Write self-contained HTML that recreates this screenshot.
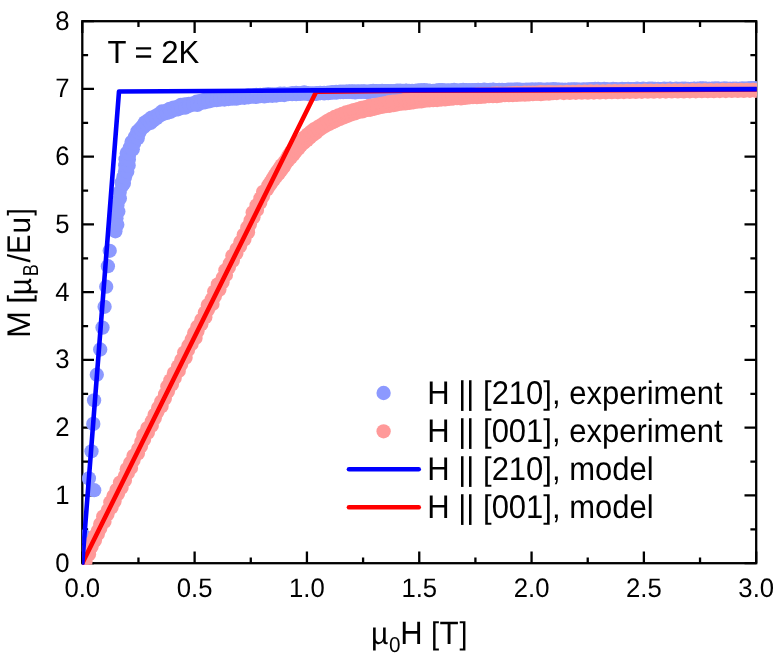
<!DOCTYPE html>
<html>
<head>
<meta charset="utf-8">
<title>M(H) at T = 2K</title>
<style>
html,body{margin:0;padding:0;background:#ffffff;}
body{width:781px;height:655px;overflow:hidden;font-family:"Liberation Sans",sans-serif;}
svg{display:block;will-change:transform;}
</style>
</head>
<body>
<svg width="781" height="655" viewBox="0 0 781 655">
<rect width="781" height="655" fill="#ffffff"/>
<defs><clipPath id="c"><rect x="82.1" y="20" width="674.7" height="544.7"/></clipPath></defs>
<g stroke="#000" stroke-width="2.3" fill="none" stroke-linecap="butt">
<rect x="82.3" y="21.2" width="673.9" height="542"/>
<path d="M82.3 563.2v-11.7M82.3 21.2v11.7M138.46 563.2v-5.8M138.46 21.2v5.8M194.62 563.2v-11.7M194.62 21.2v11.7M250.78 563.2v-5.8M250.78 21.2v5.8M306.93 563.2v-11.7M306.93 21.2v11.7M363.09 563.2v-5.8M363.09 21.2v5.8M419.25 563.2v-11.7M419.25 21.2v11.7M475.41 563.2v-5.8M475.41 21.2v5.8M531.57 563.2v-11.7M531.57 21.2v11.7M587.73 563.2v-5.8M587.73 21.2v5.8M643.88 563.2v-11.7M643.88 21.2v11.7M700.04 563.2v-5.8M700.04 21.2v5.8M756.2 563.2v-11.7M756.2 21.2v11.7M82.3 563.2h11.7M756.2 563.2h-11.7M82.3 529.33h5.8M756.2 529.33h-5.8M82.3 495.45h11.7M756.2 495.45h-11.7M82.3 461.58h5.8M756.2 461.58h-5.8M82.3 427.7h11.7M756.2 427.7h-11.7M82.3 393.83h5.8M756.2 393.83h-5.8M82.3 359.95h11.7M756.2 359.95h-11.7M82.3 326.08h5.8M756.2 326.08h-5.8M82.3 292.2h11.7M756.2 292.2h-11.7M82.3 258.33h5.8M756.2 258.33h-5.8M82.3 224.45h11.7M756.2 224.45h-11.7M82.3 190.58h5.8M756.2 190.58h-5.8M82.3 156.7h11.7M756.2 156.7h-11.7M82.3 122.83h5.8M756.2 122.83h-5.8M82.3 88.95h11.7M756.2 88.95h-11.7M82.3 55.08h5.8M756.2 55.08h-5.8M82.3 21.2h11.7M756.2 21.2h-11.7"/>
</g>
<g clip-path="url(#c)">
<g fill="#8c99ff">
<circle cx="82.6" cy="562" r="7.15"/><circle cx="84.7" cy="536.5" r="7.15"/><circle cx="88.9" cy="478.4" r="7.15"/><circle cx="94.2" cy="490.2" r="7.15"/><circle cx="91.5" cy="451.3" r="7.15"/><circle cx="93.3" cy="423.9" r="7.15"/><circle cx="94.1" cy="400.3" r="7.15"/><circle cx="96.8" cy="374.7" r="7.15"/><circle cx="100.2" cy="349.5" r="7.15"/><circle cx="102.5" cy="327.6" r="7.15"/><circle cx="104.6" cy="306.8" r="7.15"/><circle cx="106.2" cy="286.7" r="7.15"/><circle cx="107.9" cy="266.2" r="7.15"/><circle cx="109.7" cy="250.8" r="7.15"/><circle cx="115.4" cy="231.3" r="7.15"/><circle cx="117.3" cy="224.72" r="7.15"/><circle cx="116.42" cy="218.14" r="7.15"/><circle cx="118.33" cy="211.56" r="7.15"/><circle cx="117.5" cy="204.98" r="7.15"/><circle cx="119.85" cy="198.46" r="7.15"/><circle cx="119.71" cy="191.98" r="7.15"/><circle cx="122.38" cy="185.5" r="7.15"/><circle cx="121.66" cy="182.68" r="7.15"/><circle cx="123.91" cy="183.11" r="7.15"/><circle cx="123.45" cy="176.93" r="7.15"/><circle cx="124.96" cy="177.32" r="7.15"/><circle cx="125.05" cy="171.17" r="7.15"/><circle cx="127.25" cy="171.81" r="7.15"/><circle cx="125.24" cy="165.19" r="7.15"/><circle cx="128.63" cy="165.48" r="7.15"/><circle cx="125.56" cy="159.19" r="7.15"/><circle cx="128.86" cy="159.49" r="7.15"/><circle cx="126.76" cy="153.15" r="7.15"/><circle cx="129.27" cy="153.96" r="7.15"/><circle cx="129.74" cy="147.82" r="7.15"/><circle cx="132.77" cy="149.18" r="7.15"/><circle cx="131.56" cy="142.08" r="7.15"/><circle cx="134.12" cy="143.16" r="7.15"/><circle cx="134.8" cy="136.94" r="7.15"/><circle cx="137.69" cy="138.26" r="7.15"/><circle cx="137.33" cy="131.52" r="7.15"/><circle cx="139.3" cy="132.67" r="7.15"/><circle cx="140.15" cy="128.73" r="7.15"/><circle cx="140.86" cy="129.32" r="7.15"/><circle cx="142.73" cy="125.8" r="7.15"/><circle cx="143.78" cy="126.97" r="7.15"/><circle cx="145.02" cy="122.32" r="7.15"/><circle cx="146.58" cy="124.34" r="7.15"/><circle cx="148.37" cy="120.1" r="7.15"/><circle cx="150.49" cy="122.9" r="7.15"/><circle cx="151.52" cy="117.57" r="7.15"/><circle cx="153.32" cy="120.37" r="7.15"/><circle cx="155.4" cy="116.24" r="7.15"/><circle cx="156.47" cy="118.08" r="7.15"/><circle cx="158.79" cy="114.1" r="7.15"/><circle cx="159.63" cy="115.61" r="7.15"/><circle cx="161.95" cy="111.45" r="7.15"/><circle cx="163.16" cy="114.04" r="7.15"/><circle cx="166.09" cy="110.94" r="7.15"/><circle cx="166.87" cy="112.94" r="7.15"/><circle cx="169.6" cy="108.92" r="7.15"/><circle cx="170.71" cy="111.81" r="7.15"/><circle cx="173.42" cy="107.7" r="7.15"/><circle cx="174.24" cy="109.88" r="7.15"/><circle cx="177.38" cy="106.95" r="7.15"/><circle cx="178.14" cy="109.25" r="7.15"/><circle cx="180.94" cy="104.86" r="7.15"/><circle cx="181.76" cy="107.95" r="7.15"/><circle cx="184.95" cy="104.39" r="7.15"/><circle cx="185.68" cy="107.54" r="7.15"/><circle cx="188.93" cy="103.88" r="7.15"/><circle cx="189.31" cy="105.65" r="7.15"/><circle cx="192.93" cy="103.5" r="7.15"/><circle cx="193.14" cy="104.53" r="7.15"/><circle cx="196.65" cy="101.72" r="7.15"/><circle cx="197.28" cy="104.87" r="7.15"/><circle cx="200.54" cy="100.81" r="7.15"/><circle cx="200.99" cy="102.98" r="7.15"/><circle cx="204.44" cy="99.91" r="7.15"/><circle cx="204.93" cy="102.27" r="7.15"/><circle cx="208.48" cy="99.68" r="7.15"/><circle cx="208.79" cy="101.37" r="7.15"/><circle cx="212.42" cy="99.09" r="7.15"/><circle cx="212.63" cy="100.45" r="7.15"/><circle cx="216.36" cy="98.41" r="7.15"/><circle cx="216.56" cy="100.1" r="7.15"/><circle cx="220.33" cy="97.9" r="7.15"/><circle cx="220.48" cy="99.53" r="7.15"/><circle cx="224.33" cy="97.78" r="7.15"/><circle cx="224.46" cy="99.55" r="7.15"/><circle cx="228.29" cy="97.2" r="7.15"/><circle cx="228.42" cy="98.99" r="7.15"/><circle cx="232.26" cy="96.61" r="7.15"/><circle cx="232.4" cy="98.72" r="7.15"/><circle cx="236.29" cy="96.82" r="7.15"/><circle cx="236.4" cy="98.65" r="7.15"/><circle cx="240.29" cy="96.7" r="7.15"/><circle cx="240.36" cy="97.78" r="7.15"/><circle cx="244.25" cy="96.08" r="7.15"/><circle cx="244.37" cy="97.77" r="7.15"/><circle cx="248.22" cy="95.51" r="7.15"/><circle cx="248.35" cy="97.28" r="7.15"/><circle cx="252.22" cy="95.35" r="7.15"/><circle cx="252.32" cy="96.68" r="7.15"/><circle cx="256.21" cy="94.99" r="7.15"/><circle cx="256.34" cy="96.89" r="7.15"/><circle cx="260.2" cy="94.78" r="7.15"/><circle cx="260.29" cy="96.17" r="7.15"/><circle cx="264.21" cy="94.74" r="7.15"/><circle cx="264.31" cy="96.37" r="7.15"/><circle cx="268.19" cy="94.25" r="7.15"/><circle cx="268.28" cy="95.75" r="7.15"/><circle cx="272.2" cy="94.39" r="7.15"/><circle cx="272.29" cy="95.81" r="7.15"/><circle cx="276.21" cy="94.38" r="7.15"/><circle cx="276.27" cy="95.52" r="7.15"/><circle cx="280.18" cy="93.73" r="7.15"/><circle cx="280.24" cy="94.9" r="7.15"/><circle cx="284.18" cy="93.58" r="7.15"/><circle cx="284.25" cy="95.02" r="7.15"/><circle cx="288.2" cy="93.87" r="7.15"/><circle cx="288.21" cy="94.21" r="7.15"/><circle cx="292.17" cy="93.09" r="7.15"/><circle cx="292.2" cy="94.07" r="7.15"/><circle cx="296.17" cy="93.02" r="7.15"/><circle cx="296.19" cy="94.11" r="7.15"/><circle cx="300.17" cy="93.26" r="7.15"/><circle cx="300.18" cy="93.84" r="7.15"/><circle cx="304.17" cy="93.58" r="7.15"/><circle cx="304.18" cy="92.45" r="7.15"/><circle cx="308.17" cy="93.09" r="7.15"/><circle cx="308.18" cy="94" r="7.15"/><circle cx="312.18" cy="93.52" r="7.15"/><circle cx="312.19" cy="94.02" r="7.15"/><circle cx="316.17" cy="93.07" r="7.15"/><circle cx="316.2" cy="93.82" r="7.15"/><circle cx="320.18" cy="93.01" r="7.15"/><circle cx="320.18" cy="93.13" r="7.15"/><circle cx="324.18" cy="92.92" r="7.15"/><circle cx="324.21" cy="93.4" r="7.15"/><circle cx="328.17" cy="92.69" r="7.15"/><circle cx="328.19" cy="93.16" r="7.15"/><circle cx="332.15" cy="92.14" r="7.15"/><circle cx="332.16" cy="92.63" r="7.15"/><circle cx="336.14" cy="91.78" r="7.15"/><circle cx="336.16" cy="92.65" r="7.15"/><circle cx="340.14" cy="91.65" r="7.15"/><circle cx="340.15" cy="92.05" r="7.15"/><circle cx="343.14" cy="91.69" r="7.15"/><circle cx="343.15" cy="92.06" r="7.15"/><circle cx="346.14" cy="91.73" r="7.15"/><circle cx="346.15" cy="91.9" r="7.15"/><circle cx="349.14" cy="91.39" r="7.15"/><circle cx="349.15" cy="91.92" r="7.15"/><circle cx="352.14" cy="91.41" r="7.15"/><circle cx="352.15" cy="92.02" r="7.15"/><circle cx="355.14" cy="91.29" r="7.15"/><circle cx="355.16" cy="92.37" r="7.15"/><circle cx="358.14" cy="91.7" r="7.15"/><circle cx="358.15" cy="91.73" r="7.15"/><circle cx="361.14" cy="91.35" r="7.15"/><circle cx="361.15" cy="91.83" r="7.15"/><circle cx="364.14" cy="91.38" r="7.15"/><circle cx="364.14" cy="91.59" r="7.15"/><circle cx="367.15" cy="91.71" r="7.15"/><circle cx="367.16" cy="92.23" r="7.15"/><circle cx="370.14" cy="91.35" r="7.15"/><circle cx="370.15" cy="91.76" r="7.15"/><circle cx="373.13" cy="90.99" r="7.15"/><circle cx="373.14" cy="91.4" r="7.15"/><circle cx="376.14" cy="91.14" r="7.15"/><circle cx="376.14" cy="91.48" r="7.15"/><circle cx="379.14" cy="91.48" r="7.15"/><circle cx="379.14" cy="91.34" r="7.15"/><circle cx="382.13" cy="90.78" r="7.15"/><circle cx="382.15" cy="91.92" r="7.15"/><circle cx="385.14" cy="91.13" r="7.15"/><circle cx="385.14" cy="91.23" r="7.15"/><circle cx="388.14" cy="91.1" r="7.15"/><circle cx="388.14" cy="91.08" r="7.15"/><circle cx="391.14" cy="91.03" r="7.15"/><circle cx="391.15" cy="91.8" r="7.15"/><circle cx="394.14" cy="91.26" r="7.15"/><circle cx="394.15" cy="91.52" r="7.15"/><circle cx="397.13" cy="90.73" r="7.15"/><circle cx="397.14" cy="91.21" r="7.15"/><circle cx="400.13" cy="90.61" r="7.15"/><circle cx="400.15" cy="91.49" r="7.15"/><circle cx="403.14" cy="90.85" r="7.15"/><circle cx="403.15" cy="91.45" r="7.15"/><circle cx="406.13" cy="90.65" r="7.15"/><circle cx="406.14" cy="90.96" r="7.15"/><circle cx="409.14" cy="90.99" r="7.15"/><circle cx="409.15" cy="91.53" r="7.15"/><circle cx="412.14" cy="90.98" r="7.15"/><circle cx="412.14" cy="91.35" r="7.15"/><circle cx="415.14" cy="90.92" r="7.15"/><circle cx="415.14" cy="91.25" r="7.15"/><circle cx="418.13" cy="90.41" r="7.15"/><circle cx="418.14" cy="91.04" r="7.15"/><circle cx="421.13" cy="90.47" r="7.15"/><circle cx="421.13" cy="90.61" r="7.15"/><circle cx="424.13" cy="90.17" r="7.15"/><circle cx="424.14" cy="90.78" r="7.15"/><circle cx="427.13" cy="90.32" r="7.15"/><circle cx="427.14" cy="91.07" r="7.15"/><circle cx="430.14" cy="90.85" r="7.15"/><circle cx="430.14" cy="90.84" r="7.15"/><circle cx="433.14" cy="90.8" r="7.15"/><circle cx="433.14" cy="91.24" r="7.15"/><circle cx="436.14" cy="90.79" r="7.15"/><circle cx="436.14" cy="90.71" r="7.15"/><circle cx="439.13" cy="90.17" r="7.15"/><circle cx="439.13" cy="90.58" r="7.15"/><circle cx="442.13" cy="90.12" r="7.15"/><circle cx="442.13" cy="90.53" r="7.15"/><circle cx="445.13" cy="90.44" r="7.15"/><circle cx="445.14" cy="91.06" r="7.15"/><circle cx="448.14" cy="90.58" r="7.15"/><circle cx="448.14" cy="90.69" r="7.15"/><circle cx="451.13" cy="90.41" r="7.15"/><circle cx="451.14" cy="90.92" r="7.15"/><circle cx="454.13" cy="89.93" r="7.15"/><circle cx="454.14" cy="90.79" r="7.15"/><circle cx="457.14" cy="90.56" r="7.15"/><circle cx="457.14" cy="90.86" r="7.15"/><circle cx="460.13" cy="90.41" r="7.15"/><circle cx="460.14" cy="90.59" r="7.15"/><circle cx="463.13" cy="89.93" r="7.15"/><circle cx="463.14" cy="90.82" r="7.15"/><circle cx="466.13" cy="90.03" r="7.15"/><circle cx="466.14" cy="90.81" r="7.15"/><circle cx="469.13" cy="90.52" r="7.15"/><circle cx="469.13" cy="90.46" r="7.15"/><circle cx="472.13" cy="90.04" r="7.15"/><circle cx="472.14" cy="90.88" r="7.15"/><circle cx="475.13" cy="90.28" r="7.15"/><circle cx="475.13" cy="90.24" r="7.15"/><circle cx="478.13" cy="89.78" r="7.15"/><circle cx="478.13" cy="90.2" r="7.15"/><circle cx="481.13" cy="90.38" r="7.15"/><circle cx="481.14" cy="90.71" r="7.15"/><circle cx="484.13" cy="89.76" r="7.15"/><circle cx="484.14" cy="90.7" r="7.15"/><circle cx="487.13" cy="90.4" r="7.15"/><circle cx="487.14" cy="90.54" r="7.15"/><circle cx="490.13" cy="89.88" r="7.15"/><circle cx="490.13" cy="90.44" r="7.15"/><circle cx="493.13" cy="89.68" r="7.15"/><circle cx="493.13" cy="89.99" r="7.15"/><circle cx="496.13" cy="90.34" r="7.15"/><circle cx="496.13" cy="90.48" r="7.15"/><circle cx="499.13" cy="89.96" r="7.15"/><circle cx="499.14" cy="90.69" r="7.15"/><circle cx="502.13" cy="89.87" r="7.15"/><circle cx="502.14" cy="90.62" r="7.15"/><circle cx="505.13" cy="90.16" r="7.15"/><circle cx="505.13" cy="90.07" r="7.15"/><circle cx="508.13" cy="89.68" r="7.15"/><circle cx="508.13" cy="90.11" r="7.15"/><circle cx="511.13" cy="89.65" r="7.15"/><circle cx="511.13" cy="90.33" r="7.15"/><circle cx="514.13" cy="89.65" r="7.15"/><circle cx="514.13" cy="90.17" r="7.15"/><circle cx="517.13" cy="89.52" r="7.15"/><circle cx="517.14" cy="90.55" r="7.15"/><circle cx="520.13" cy="89.68" r="7.15"/><circle cx="520.13" cy="90.17" r="7.15"/><circle cx="523.13" cy="89.85" r="7.15"/><circle cx="523.14" cy="90.5" r="7.15"/><circle cx="526.13" cy="89.7" r="7.15"/><circle cx="526.14" cy="90.49" r="7.15"/><circle cx="529.13" cy="89.74" r="7.15"/><circle cx="529.13" cy="90.16" r="7.15"/><circle cx="532.13" cy="89.74" r="7.15"/><circle cx="532.13" cy="89.73" r="7.15"/><circle cx="535.13" cy="89.65" r="7.15"/><circle cx="535.13" cy="89.85" r="7.15"/><circle cx="538.13" cy="89.28" r="7.15"/><circle cx="538.13" cy="90.32" r="7.15"/><circle cx="541.13" cy="89.4" r="7.15"/><circle cx="541.13" cy="90.04" r="7.15"/><circle cx="544.13" cy="89.82" r="7.15"/><circle cx="544.13" cy="90.09" r="7.15"/><circle cx="547.13" cy="89.48" r="7.15"/><circle cx="547.13" cy="90.04" r="7.15"/><circle cx="550.13" cy="89.65" r="7.15"/><circle cx="550.13" cy="90.23" r="7.15"/><circle cx="553.13" cy="89.27" r="7.15"/><circle cx="553.13" cy="90.04" r="7.15"/><circle cx="556.13" cy="89.37" r="7.15"/><circle cx="556.13" cy="89.79" r="7.15"/><circle cx="559.13" cy="89.77" r="7.15"/><circle cx="559.13" cy="89.96" r="7.15"/><circle cx="562.13" cy="89.58" r="7.15"/><circle cx="562.13" cy="90.14" r="7.15"/><circle cx="565.13" cy="89.85" r="7.15"/><circle cx="565.13" cy="89.87" r="7.15"/><circle cx="568.13" cy="89.59" r="7.15"/><circle cx="568.13" cy="89.9" r="7.15"/><circle cx="571.13" cy="89.49" r="7.15"/><circle cx="571.13" cy="90.03" r="7.15"/><circle cx="574.13" cy="89.42" r="7.15"/><circle cx="574.13" cy="89.89" r="7.15"/><circle cx="577.13" cy="89.43" r="7.15"/><circle cx="577.13" cy="90.2" r="7.15"/><circle cx="580.13" cy="89.59" r="7.15"/><circle cx="580.13" cy="90.13" r="7.15"/><circle cx="583.13" cy="89.76" r="7.15"/><circle cx="583.13" cy="89.62" r="7.15"/><circle cx="586.13" cy="89.44" r="7.15"/><circle cx="586.13" cy="90.15" r="7.15"/><circle cx="589.13" cy="89.65" r="7.15"/><circle cx="589.13" cy="89.49" r="7.15"/><circle cx="592.13" cy="89.06" r="7.15"/><circle cx="592.13" cy="89.71" r="7.15"/><circle cx="595.13" cy="89" r="7.15"/><circle cx="595.13" cy="89.54" r="7.15"/><circle cx="598.13" cy="88.98" r="7.15"/><circle cx="598.13" cy="89.86" r="7.15"/><circle cx="601.13" cy="89.54" r="7.15"/><circle cx="601.13" cy="90.03" r="7.15"/><circle cx="604.13" cy="89.02" r="7.15"/><circle cx="604.13" cy="89.87" r="7.15"/><circle cx="607.13" cy="89.4" r="7.15"/><circle cx="607.13" cy="89.39" r="7.15"/><circle cx="610.13" cy="89.57" r="7.15"/><circle cx="610.13" cy="90.03" r="7.15"/><circle cx="613.13" cy="89.02" r="7.15"/><circle cx="613.13" cy="90.01" r="7.15"/><circle cx="616.13" cy="89.15" r="7.15"/><circle cx="616.13" cy="89.62" r="7.15"/><circle cx="619.13" cy="89.6" r="7.15"/><circle cx="619.13" cy="89.88" r="7.15"/><circle cx="622.13" cy="88.92" r="7.15"/><circle cx="622.13" cy="89.54" r="7.15"/><circle cx="625.13" cy="89.19" r="7.15"/><circle cx="625.13" cy="89.45" r="7.15"/><circle cx="628.13" cy="88.92" r="7.15"/><circle cx="628.13" cy="89.42" r="7.15"/><circle cx="631.13" cy="89.32" r="7.15"/><circle cx="631.13" cy="89.16" r="7.15"/><circle cx="634.13" cy="89.17" r="7.15"/><circle cx="634.13" cy="89.48" r="7.15"/><circle cx="637.13" cy="88.73" r="7.15"/><circle cx="637.13" cy="89.38" r="7.15"/><circle cx="640.13" cy="89.2" r="7.15"/><circle cx="640.13" cy="89.51" r="7.15"/><circle cx="643.13" cy="88.74" r="7.15"/><circle cx="643.13" cy="89.87" r="7.15"/><circle cx="646.13" cy="89.3" r="7.15"/><circle cx="646.13" cy="89.85" r="7.15"/><circle cx="649.13" cy="88.74" r="7.15"/><circle cx="649.13" cy="89.27" r="7.15"/><circle cx="652.13" cy="88.67" r="7.15"/><circle cx="652.13" cy="89.66" r="7.15"/><circle cx="655.13" cy="88.84" r="7.15"/><circle cx="655.13" cy="89.13" r="7.15"/><circle cx="658.13" cy="88.95" r="7.15"/><circle cx="658.13" cy="89.74" r="7.15"/><circle cx="661.13" cy="89.25" r="7.15"/><circle cx="661.13" cy="89.2" r="7.15"/><circle cx="664.13" cy="88.7" r="7.15"/><circle cx="664.13" cy="89.71" r="7.15"/><circle cx="667.13" cy="89.02" r="7.15"/><circle cx="667.13" cy="89.52" r="7.15"/><circle cx="670.13" cy="88.62" r="7.15"/><circle cx="670.13" cy="89" r="7.15"/><circle cx="673.13" cy="89.09" r="7.15"/><circle cx="673.13" cy="89.27" r="7.15"/><circle cx="676.13" cy="88.58" r="7.15"/><circle cx="676.13" cy="89.67" r="7.15"/><circle cx="679.13" cy="89.01" r="7.15"/><circle cx="679.13" cy="89.55" r="7.15"/><circle cx="682.13" cy="88.56" r="7.15"/><circle cx="682.13" cy="89.58" r="7.15"/><circle cx="685.13" cy="88.53" r="7.15"/><circle cx="685.13" cy="89.57" r="7.15"/><circle cx="688.13" cy="88.83" r="7.15"/><circle cx="688.13" cy="89.14" r="7.15"/><circle cx="691.13" cy="88.89" r="7.15"/><circle cx="691.13" cy="89.59" r="7.15"/><circle cx="694.13" cy="88.65" r="7.15"/><circle cx="694.13" cy="88.94" r="7.15"/><circle cx="697.13" cy="88.84" r="7.15"/><circle cx="697.13" cy="89.01" r="7.15"/><circle cx="700.13" cy="88.5" r="7.15"/><circle cx="700.13" cy="88.94" r="7.15"/><circle cx="703.13" cy="88.43" r="7.15"/><circle cx="703.13" cy="88.96" r="7.15"/><circle cx="706.13" cy="88.63" r="7.15"/><circle cx="706.13" cy="89.02" r="7.15"/><circle cx="709.13" cy="88.97" r="7.15"/><circle cx="709.13" cy="89" r="7.15"/><circle cx="712.13" cy="88.75" r="7.15"/><circle cx="712.13" cy="88.9" r="7.15"/><circle cx="715.13" cy="88.62" r="7.15"/><circle cx="715.13" cy="88.75" r="7.15"/><circle cx="718.13" cy="88.53" r="7.15"/><circle cx="718.13" cy="88.74" r="7.15"/><circle cx="721.13" cy="88.9" r="7.15"/><circle cx="721.13" cy="89.15" r="7.15"/><circle cx="724.13" cy="88.45" r="7.15"/><circle cx="724.13" cy="89.08" r="7.15"/><circle cx="727.13" cy="89.03" r="7.15"/><circle cx="727.13" cy="88.77" r="7.15"/><circle cx="730.13" cy="88.93" r="7.15"/><circle cx="730.13" cy="89.02" r="7.15"/><circle cx="733.13" cy="88.65" r="7.15"/><circle cx="733.13" cy="89.33" r="7.15"/><circle cx="736.13" cy="88.56" r="7.15"/><circle cx="736.13" cy="89.05" r="7.15"/><circle cx="739.13" cy="88.78" r="7.15"/><circle cx="739.13" cy="89.42" r="7.15"/><circle cx="742.13" cy="88.49" r="7.15"/><circle cx="742.13" cy="89.28" r="7.15"/><circle cx="745.13" cy="88.77" r="7.15"/><circle cx="745.13" cy="89.11" r="7.15"/><circle cx="748.13" cy="88.51" r="7.15"/><circle cx="748.13" cy="88.87" r="7.15"/><circle cx="751.13" cy="88.22" r="7.15"/><circle cx="751.13" cy="88.68" r="7.15"/><circle cx="754.13" cy="88.22" r="7.15"/><circle cx="754.13" cy="89.16" r="7.15"/><circle cx="757.13" cy="88.35" r="7.15"/><circle cx="757.13" cy="88.68" r="7.15"/><circle cx="760.13" cy="88.2" r="7.15"/><circle cx="760.13" cy="89.21" r="7.15"/><circle cx="763.13" cy="88.82" r="7.15"/><circle cx="763.13" cy="89.06" r="7.15"/><circle cx="766.13" cy="88.33" r="7.15"/><circle cx="766.13" cy="88.7" r="7.15"/><circle cx="769.13" cy="88.33" r="7.15"/><circle cx="769.13" cy="88.86" r="7.15"/>
</g>
<g fill="#ff9999">
<circle cx="81.31" cy="562.71" r="7.15"/><circle cx="85.45" cy="561.41" r="7.15"/><circle cx="84.25" cy="556.35" r="7.15"/><circle cx="89" cy="554.24" r="7.15"/><circle cx="88.1" cy="549.33" r="7.15"/><circle cx="91.6" cy="546.6" r="7.15"/><circle cx="90.96" cy="542.94" r="7.15"/><circle cx="94.9" cy="540.42" r="7.15"/><circle cx="94.89" cy="535.96" r="7.15"/><circle cx="97.83" cy="534.06" r="7.15"/><circle cx="97.94" cy="530.77" r="7.15"/><circle cx="100.22" cy="528.55" r="7.15"/><circle cx="100.22" cy="524.09" r="7.15"/><circle cx="104.44" cy="521.72" r="7.15"/><circle cx="103.2" cy="516.64" r="7.15"/><circle cx="107.45" cy="514.28" r="7.15"/><circle cx="107.92" cy="510.05" r="7.15"/><circle cx="111.51" cy="507.36" r="7.15"/><circle cx="110.35" cy="502.33" r="7.15"/><circle cx="114.58" cy="501.07" r="7.15"/><circle cx="113.49" cy="496.07" r="7.15"/><circle cx="117.96" cy="493.82" r="7.15"/><circle cx="116.55" cy="489.78" r="7.15"/><circle cx="121.54" cy="487.78" r="7.15"/><circle cx="120" cy="482.56" r="7.15"/><circle cx="124.87" cy="480.5" r="7.15"/><circle cx="124.94" cy="476.07" r="7.15"/><circle cx="127.88" cy="473.06" r="7.15"/><circle cx="126.74" cy="469.15" r="7.15"/><circle cx="130.97" cy="467.9" r="7.15"/><circle cx="130.09" cy="463" r="7.15"/><circle cx="133.5" cy="460.23" r="7.15"/><circle cx="133.52" cy="455.78" r="7.15"/><circle cx="137.9" cy="453.48" r="7.15"/><circle cx="138.17" cy="449.15" r="7.15"/><circle cx="140.99" cy="446.08" r="7.15"/><circle cx="141.39" cy="441.81" r="7.15"/><circle cx="144.01" cy="439.77" r="7.15"/><circle cx="143.34" cy="434.97" r="7.15"/><circle cx="147.84" cy="432.73" r="7.15"/><circle cx="147.35" cy="428.03" r="7.15"/><circle cx="151.76" cy="425.75" r="7.15"/><circle cx="151.87" cy="421.34" r="7.15"/><circle cx="154.72" cy="418.29" r="7.15"/><circle cx="154.61" cy="414.89" r="7.15"/><circle cx="157.43" cy="411.82" r="7.15"/><circle cx="158.21" cy="407.74" r="7.15"/><circle cx="161.63" cy="406.08" r="7.15"/><circle cx="161.27" cy="401.45" r="7.15"/><circle cx="164.8" cy="398.73" r="7.15"/><circle cx="165.09" cy="394.41" r="7.15"/><circle cx="167.92" cy="391.34" r="7.15"/><circle cx="167.32" cy="386.59" r="7.15"/><circle cx="171.88" cy="384.38" r="7.15"/><circle cx="170.37" cy="380.29" r="7.15"/><circle cx="174.67" cy="377.95" r="7.15"/><circle cx="173.94" cy="373.13" r="7.15"/><circle cx="178.72" cy="371.03" r="7.15"/><circle cx="178.17" cy="366.29" r="7.15"/><circle cx="181.09" cy="364.39" r="7.15"/><circle cx="181.29" cy="360.03" r="7.15"/><circle cx="185.56" cy="357.68" r="7.15"/><circle cx="184.21" cy="352.55" r="7.15"/><circle cx="188.01" cy="349.96" r="7.15"/><circle cx="188.4" cy="345.7" r="7.15"/><circle cx="191.55" cy="343.91" r="7.15"/><circle cx="191.74" cy="339.54" r="7.15"/><circle cx="195.52" cy="338.06" r="7.15"/><circle cx="194.19" cy="332.94" r="7.15"/><circle cx="197.46" cy="331.21" r="7.15"/><circle cx="197.35" cy="326.69" r="7.15"/><circle cx="201.28" cy="324.17" r="7.15"/><circle cx="201.41" cy="319.78" r="7.15"/><circle cx="205.3" cy="317.24" r="7.15"/><circle cx="204.89" cy="312.57" r="7.15"/><circle cx="207.97" cy="309.63" r="7.15"/><circle cx="207.78" cy="305.08" r="7.15"/><circle cx="212.5" cy="304.06" r="7.15"/><circle cx="211.8" cy="299.25" r="7.15"/><circle cx="214.84" cy="296.3" r="7.15"/><circle cx="214.23" cy="291.53" r="7.15"/><circle cx="219.39" cy="289.62" r="7.15"/><circle cx="217.84" cy="284.39" r="7.15"/><circle cx="222.51" cy="282.24" r="7.15"/><circle cx="222.79" cy="277.91" r="7.15"/><circle cx="225.91" cy="275" r="7.15"/><circle cx="225.39" cy="270.27" r="7.15"/><circle cx="228.82" cy="267.51" r="7.15"/><circle cx="229.78" cy="263.52" r="7.15"/><circle cx="232.86" cy="260.59" r="7.15"/><circle cx="232.36" cy="255.87" r="7.15"/><circle cx="236.28" cy="253.35" r="7.15"/><circle cx="236.61" cy="249.05" r="7.15"/><circle cx="240.03" cy="246.28" r="7.15"/><circle cx="240.35" cy="241.98" r="7.15"/><circle cx="244.37" cy="239.48" r="7.15"/><circle cx="243.74" cy="234.74" r="7.15"/><circle cx="247.98" cy="232.32" r="7.15"/><circle cx="247.28" cy="227.57" r="7.15"/><circle cx="249.88" cy="224.36" r="7.15"/><circle cx="250.69" cy="220.34" r="7.15"/><circle cx="253.46" cy="217.2" r="7.15"/><circle cx="252.67" cy="212.46" r="7.15"/><circle cx="257" cy="210.02" r="7.15"/><circle cx="256.58" cy="205.43" r="7.15"/><circle cx="260.22" cy="202.72" r="7.15"/><circle cx="260.42" cy="198.37" r="7.15"/><circle cx="262.96" cy="196.29" r="7.15"/><circle cx="263.14" cy="191.82" r="7.15"/><circle cx="267.01" cy="189.46" r="7.15"/><circle cx="269.06" cy="186.05" r="7.15"/><circle cx="268.26" cy="185.49" r="7.15"/><circle cx="271.42" cy="182.82" r="7.15"/><circle cx="270.52" cy="182.19" r="7.15"/><circle cx="273.81" cy="179.6" r="7.15"/><circle cx="272.63" cy="178.79" r="7.15"/><circle cx="276.18" cy="176.39" r="7.15"/><circle cx="274.83" cy="175.43" r="7.15"/><circle cx="278.81" cy="173.37" r="7.15"/><circle cx="276.85" cy="171.95" r="7.15"/><circle cx="281.18" cy="170.16" r="7.15"/><circle cx="279.2" cy="168.7" r="7.15"/><circle cx="283.63" cy="167" r="7.15"/><circle cx="281.5" cy="165.42" r="7.15"/><circle cx="285.66" cy="163.52" r="7.15"/><circle cx="284.22" cy="162.46" r="7.15"/><circle cx="288.11" cy="160.36" r="7.15"/><circle cx="286.53" cy="159.19" r="7.15"/><circle cx="290.88" cy="157.46" r="7.15"/><circle cx="288.54" cy="155.68" r="7.15"/><circle cx="293.46" cy="154.43" r="7.15"/><circle cx="290.84" cy="152.37" r="7.15"/><circle cx="295.82" cy="151.26" r="7.15"/><circle cx="293.52" cy="149.33" r="7.15"/><circle cx="298.53" cy="148.39" r="7.15"/><circle cx="296.06" cy="146.17" r="7.15"/><circle cx="301.03" cy="145.31" r="7.15"/><circle cx="299" cy="143.37" r="7.15"/><circle cx="303.97" cy="142.65" r="7.15"/><circle cx="301.67" cy="140.33" r="7.15"/><circle cx="307.04" cy="140.16" r="7.15"/><circle cx="304.38" cy="137.29" r="7.15"/><circle cx="309.93" cy="137.49" r="7.15"/><circle cx="307.45" cy="134.62" r="7.15"/><circle cx="312.95" cy="134.99" r="7.15"/><circle cx="310.57" cy="132" r="7.15"/><circle cx="316.12" cy="132.67" r="7.15"/><circle cx="313.77" cy="129.47" r="7.15"/><circle cx="319.08" cy="130.04" r="7.15"/><circle cx="317.33" cy="127.48" r="7.15"/><circle cx="322.33" cy="127.76" r="7.15"/><circle cx="320.73" cy="125.31" r="7.15"/><circle cx="325.69" cy="125.68" r="7.15"/><circle cx="324.14" cy="123.13" r="7.15"/><circle cx="329.21" cy="123.89" r="7.15"/><circle cx="327.54" cy="120.9" r="7.15"/><circle cx="332.73" cy="122.11" r="7.15"/><circle cx="331.07" cy="118.9" r="7.15"/><circle cx="336.32" cy="120.52" r="7.15"/><circle cx="334.66" cy="116.96" r="7.15"/><circle cx="339.86" cy="118.82" r="7.15"/><circle cx="338.44" cy="115.44" r="7.15"/><circle cx="343.51" cy="117.32" r="7.15"/><circle cx="342.23" cy="113.98" r="7.15"/><circle cx="347.25" cy="116.02" r="7.15"/><circle cx="345.99" cy="112.52" r="7.15"/><circle cx="350.93" cy="114.54" r="7.15"/><circle cx="349.87" cy="111.37" r="7.15"/><circle cx="354.71" cy="113.4" r="7.15"/><circle cx="353.71" cy="110.09" r="7.15"/><circle cx="358.43" cy="112" r="7.15"/><circle cx="357.67" cy="109.25" r="7.15"/><circle cx="362.37" cy="111.42" r="7.15"/><circle cx="361.47" cy="107.79" r="7.15"/><circle cx="366.15" cy="110.21" r="7.15"/><circle cx="365.48" cy="107.2" r="7.15"/><circle cx="370.13" cy="109.78" r="7.15"/><circle cx="369.32" cy="105.96" r="7.15"/><circle cx="374.01" cy="108.78" r="7.15"/><circle cx="373.27" cy="105.29" r="7.15"/><circle cx="377.87" cy="107.75" r="7.15"/><circle cx="377.23" cy="104.65" r="7.15"/><circle cx="381.76" cy="106.85" r="7.15"/><circle cx="381.19" cy="103.96" r="7.15"/><circle cx="385.67" cy="106.19" r="7.15"/><circle cx="385.13" cy="103.14" r="7.15"/><circle cx="389.63" cy="105.76" r="7.15"/><circle cx="389.06" cy="102.24" r="7.15"/><circle cx="393.57" cy="105.19" r="7.15"/><circle cx="393.03" cy="101.6" r="7.15"/><circle cx="397.47" cy="104.26" r="7.15"/><circle cx="397.04" cy="101.36" r="7.15"/><circle cx="401.42" cy="103.65" r="7.15"/><circle cx="401.01" cy="100.8" r="7.15"/><circle cx="405.41" cy="103.36" r="7.15"/><circle cx="404.94" cy="99.96" r="7.15"/><circle cx="409.37" cy="102.85" r="7.15"/><circle cx="408.91" cy="99.38" r="7.15"/><circle cx="413.31" cy="102.23" r="7.15"/><circle cx="412.9" cy="98.99" r="7.15"/><circle cx="417.25" cy="101.66" r="7.15"/><circle cx="416.9" cy="98.61" r="7.15"/><circle cx="421.25" cy="101.43" r="7.15"/><circle cx="420.86" cy="97.93" r="7.15"/><circle cx="425.18" cy="100.64" r="7.15"/><circle cx="424.87" cy="97.85" r="7.15"/><circle cx="429.17" cy="100.38" r="7.15"/><circle cx="428.84" cy="97.24" r="7.15"/><circle cx="433.14" cy="100.07" r="7.15"/><circle cx="432.82" cy="96.74" r="7.15"/><circle cx="437.12" cy="100.02" r="7.15"/><circle cx="436.81" cy="96.09" r="7.15"/><circle cx="441.07" cy="99.55" r="7.15"/><circle cx="440.85" cy="96" r="7.15"/><circle cx="445.06" cy="99.43" r="7.15"/><circle cx="444.85" cy="95.67" r="7.15"/><circle cx="449.04" cy="98.91" r="7.15"/><circle cx="448.85" cy="95.73" r="7.15"/><circle cx="453.02" cy="98.49" r="7.15"/><circle cx="452.85" cy="95.67" r="7.15"/><circle cx="457.01" cy="98.21" r="7.15"/><circle cx="456.85" cy="95.45" r="7.15"/><circle cx="461.02" cy="98.36" r="7.15"/><circle cx="460.82" cy="94.83" r="7.15"/><circle cx="465" cy="97.94" r="7.15"/><circle cx="464.83" cy="94.8" r="7.15"/><circle cx="468.98" cy="97.45" r="7.15"/><circle cx="468.84" cy="94.86" r="7.15"/><circle cx="472.96" cy="97.03" r="7.15"/><circle cx="472.85" cy="94.87" r="7.15"/><circle cx="476.97" cy="97.07" r="7.15"/><circle cx="476.83" cy="94.42" r="7.15"/><circle cx="480.97" cy="96.93" r="7.15"/><circle cx="480.82" cy="94.15" r="7.15"/><circle cx="484.95" cy="96.54" r="7.15"/><circle cx="484.83" cy="94.14" r="7.15"/><circle cx="488.94" cy="96.2" r="7.15"/><circle cx="488.83" cy="94.08" r="7.15"/><circle cx="492.94" cy="96.22" r="7.15"/><circle cx="492.82" cy="93.68" r="7.15"/><circle cx="496.94" cy="96.15" r="7.15"/><circle cx="496.81" cy="93.38" r="7.15"/><circle cx="500.91" cy="95.51" r="7.15"/><circle cx="500.83" cy="93.65" r="7.15"/><circle cx="504.9" cy="95.18" r="7.15"/><circle cx="504.84" cy="93.64" r="7.15"/><circle cx="508.9" cy="95.16" r="7.15"/><circle cx="508.83" cy="93.33" r="7.15"/><circle cx="512.9" cy="95.01" r="7.15"/><circle cx="512.83" cy="93.17" r="7.15"/><circle cx="516.9" cy="94.97" r="7.15"/><circle cx="516.82" cy="92.89" r="7.15"/><circle cx="520.88" cy="94.49" r="7.15"/><circle cx="520.83" cy="93.07" r="7.15"/><circle cx="524.89" cy="94.66" r="7.15"/><circle cx="524.82" cy="92.6" r="7.15"/><circle cx="528.88" cy="94.44" r="7.15"/><circle cx="528.82" cy="92.53" r="7.15"/><circle cx="532.87" cy="94.13" r="7.15"/><circle cx="532.82" cy="92.58" r="7.15"/><circle cx="536.86" cy="93.77" r="7.15"/><circle cx="536.83" cy="92.67" r="7.15"/><circle cx="540.87" cy="94.07" r="7.15"/><circle cx="540.81" cy="92.12" r="7.15"/><circle cx="544.86" cy="93.52" r="7.15"/><circle cx="544.83" cy="92.44" r="7.15"/><circle cx="548.86" cy="93.68" r="7.15"/><circle cx="548.82" cy="92.07" r="7.15"/><circle cx="552.85" cy="93.18" r="7.15"/><circle cx="552.83" cy="92.36" r="7.15"/><circle cx="556.85" cy="93.04" r="7.15"/><circle cx="556.83" cy="92.31" r="7.15"/><circle cx="560.84" cy="92.08" r="7.15"/><circle cx="563.84" cy="93.02" r="7.15"/><circle cx="566.84" cy="91.96" r="7.15"/><circle cx="569.84" cy="92.9" r="7.15"/><circle cx="572.83" cy="91.84" r="7.15"/><circle cx="575.83" cy="92.78" r="7.15"/><circle cx="578.83" cy="91.73" r="7.15"/><circle cx="581.83" cy="92.68" r="7.15"/><circle cx="584.83" cy="91.62" r="7.15"/><circle cx="587.83" cy="92.57" r="7.15"/><circle cx="590.83" cy="91.52" r="7.15"/><circle cx="593.83" cy="92.48" r="7.15"/><circle cx="596.83" cy="91.43" r="7.15"/><circle cx="599.83" cy="92.38" r="7.15"/><circle cx="602.83" cy="91.33" r="7.15"/><circle cx="605.83" cy="92.29" r="7.15"/><circle cx="608.83" cy="91.24" r="7.15"/><circle cx="611.83" cy="92.2" r="7.15"/><circle cx="614.83" cy="91.15" r="7.15"/><circle cx="617.83" cy="92.11" r="7.15"/><circle cx="620.83" cy="91.07" r="7.15"/><circle cx="623.83" cy="92.02" r="7.15"/><circle cx="626.83" cy="90.98" r="7.15"/><circle cx="629.83" cy="91.94" r="7.15"/><circle cx="632.83" cy="90.9" r="7.15"/><circle cx="635.83" cy="91.86" r="7.15"/><circle cx="638.83" cy="90.82" r="7.15"/><circle cx="641.83" cy="91.78" r="7.15"/><circle cx="644.83" cy="90.74" r="7.15"/><circle cx="647.83" cy="91.7" r="7.15"/><circle cx="650.83" cy="90.66" r="7.15"/><circle cx="653.83" cy="91.63" r="7.15"/><circle cx="656.83" cy="90.59" r="7.15"/><circle cx="659.83" cy="91.56" r="7.15"/><circle cx="662.82" cy="90.53" r="7.15"/><circle cx="665.82" cy="91.5" r="7.15"/><circle cx="668.82" cy="90.47" r="7.15"/><circle cx="671.82" cy="91.44" r="7.15"/><circle cx="674.82" cy="90.42" r="7.15"/><circle cx="677.82" cy="91.39" r="7.15"/><circle cx="680.82" cy="90.36" r="7.15"/><circle cx="683.82" cy="91.34" r="7.15"/><circle cx="686.82" cy="90.31" r="7.15"/><circle cx="689.82" cy="91.29" r="7.15"/><circle cx="692.82" cy="90.26" r="7.15"/><circle cx="695.82" cy="91.24" r="7.15"/><circle cx="698.82" cy="90.21" r="7.15"/><circle cx="701.82" cy="91.18" r="7.15"/><circle cx="704.82" cy="90.16" r="7.15"/><circle cx="707.82" cy="91.13" r="7.15"/><circle cx="710.82" cy="90.11" r="7.15"/><circle cx="713.82" cy="91.08" r="7.15"/><circle cx="716.82" cy="90.06" r="7.15"/><circle cx="719.82" cy="91.03" r="7.15"/><circle cx="722.82" cy="90.01" r="7.15"/><circle cx="725.82" cy="90.99" r="7.15"/><circle cx="728.82" cy="89.96" r="7.15"/><circle cx="731.82" cy="90.94" r="7.15"/><circle cx="734.82" cy="89.92" r="7.15"/><circle cx="737.82" cy="90.89" r="7.15"/><circle cx="740.82" cy="89.87" r="7.15"/><circle cx="743.82" cy="90.85" r="7.15"/><circle cx="746.82" cy="89.83" r="7.15"/><circle cx="749.82" cy="90.8" r="7.15"/><circle cx="752.82" cy="89.78" r="7.15"/><circle cx="755.82" cy="90.76" r="7.15"/><circle cx="758.82" cy="89.74" r="7.15"/><circle cx="761.82" cy="90.72" r="7.15"/><circle cx="764.82" cy="89.7" r="7.15"/><circle cx="767.82" cy="90.7" r="7.15"/>
</g>
<g fill="none" stroke-width="4.6" stroke-linejoin="round" stroke-linecap="round">
<path stroke="#ff0000" d="M82.3 563.2L316.2 91.7L413 90.7L663 89.9L760 89.5"/>
<path stroke="#0000ff" d="M82.3 563.2L119 91.5L315 90.4L760 89.15"/>
</g>
</g>
<g font-family="'Liberation Sans', sans-serif" fill="#000" text-rendering="geometricPrecision">
<text transform="translate(82.3 597.3) scale(1 1.04)" font-size="25.7" text-anchor="middle">0.0</text>
<text transform="translate(194.62 597.3) scale(1 1.04)" font-size="25.7" text-anchor="middle">0.5</text>
<text transform="translate(306.93 597.3) scale(1 1.04)" font-size="25.7" text-anchor="middle">1.0</text>
<text transform="translate(419.25 597.3) scale(1 1.04)" font-size="25.7" text-anchor="middle">1.5</text>
<text transform="translate(531.57 597.3) scale(1 1.04)" font-size="25.7" text-anchor="middle">2.0</text>
<text transform="translate(643.88 597.3) scale(1 1.04)" font-size="25.7" text-anchor="middle">2.5</text>
<text transform="translate(756.2 597.3) scale(1 1.04)" font-size="25.7" text-anchor="middle">3.0</text>
<text transform="translate(69.5 571.7) scale(1 1.04)" font-size="25.7" text-anchor="end">0</text>
<text transform="translate(69.5 503.95) scale(1 1.04)" font-size="25.7" text-anchor="end">1</text>
<text transform="translate(69.5 436.2) scale(1 1.04)" font-size="25.7" text-anchor="end">2</text>
<text transform="translate(69.5 368.45) scale(1 1.04)" font-size="25.7" text-anchor="end">3</text>
<text transform="translate(69.5 300.7) scale(1 1.04)" font-size="25.7" text-anchor="end">4</text>
<text transform="translate(69.5 232.95) scale(1 1.04)" font-size="25.7" text-anchor="end">5</text>
<text transform="translate(69.5 165.2) scale(1 1.04)" font-size="25.7" text-anchor="end">6</text>
<text transform="translate(69.5 97.45) scale(1 1.04)" font-size="25.7" text-anchor="end">7</text>
<text transform="translate(69.5 29.7) scale(1 1.04)" font-size="25.7" text-anchor="end">8</text>
<text transform="translate(370.94 644.29) scale(0.3011 0.3139)" font-size="100">µ</text>
<text transform="translate(388.89 651.69) scale(0.2071 0.2147)" font-size="100">0</text>
<text transform="translate(400.36 643.60) scale(0.3097 0.3256)" font-size="100">H</text>
<text transform="translate(431.12 644.05) scale(0.2919 0.3154)" font-size="100">[</text>
<text transform="translate(439.40 643.60) scale(0.3130 0.3241)" font-size="100">T</text>
<text transform="translate(459.38 644.05) scale(0.2868 0.3154)" font-size="100">]</text>
<text transform="translate(30.00 338.06) rotate(-90) scale(0.3244 0.3285)" font-size="100">M</text>
<text transform="translate(30.27 303.86) rotate(-90) scale(0.3170 0.3197)" font-size="100">[</text>
<text transform="translate(30.57 295.13) rotate(-90) scale(0.2970 0.3194)" font-size="100">µ</text>
<text transform="translate(38.40 276.18) rotate(-90) scale(0.1804 0.2166)" font-size="100">B</text>
<text transform="translate(30.19 262.40) rotate(-90) scale(0.3095 0.3173)" font-size="100">/</text>
<text transform="translate(30.00 253.66) rotate(-90) scale(0.2878 0.3285)" font-size="100">E</text>
<text transform="translate(30.00 233.43) rotate(-90) scale(0.2966 0.3085)" font-size="100">u</text>
<text transform="translate(30.27 215.71) rotate(-90) scale(0.2717 0.3197)" font-size="100">]</text>
<text transform="translate(107.4 62.6) scale(1 1.03)" font-size="31.1" text-anchor="start">T = 2K</text>
<text transform="translate(427.3 403.8) scale(1 1.06)" font-size="31" text-anchor="start">H || [210], experiment</text>
<text transform="translate(427.3 442) scale(1 1.06)" font-size="31" text-anchor="start">H || [001], experiment</text>
<text transform="translate(427.3 480.3) scale(1 1.06)" font-size="31" text-anchor="start">H || [210], model</text>
<text transform="translate(427.3 518.2) scale(1 1.06)" font-size="31" text-anchor="start">H || [001], model</text>
</g>
<circle cx="383.6" cy="393" r="7.15" fill="#8c99ff"/>
<circle cx="383.6" cy="431.3" r="7.15" fill="#ff9999"/>
<g fill="none" stroke-width="4.6" stroke-linecap="round">
<path stroke="#0000ff" d="M349 469.3H418.7"/>
<path stroke="#ff0000" d="M349 507.2H418.7"/>
</g>
</svg>
</body>
</html>
